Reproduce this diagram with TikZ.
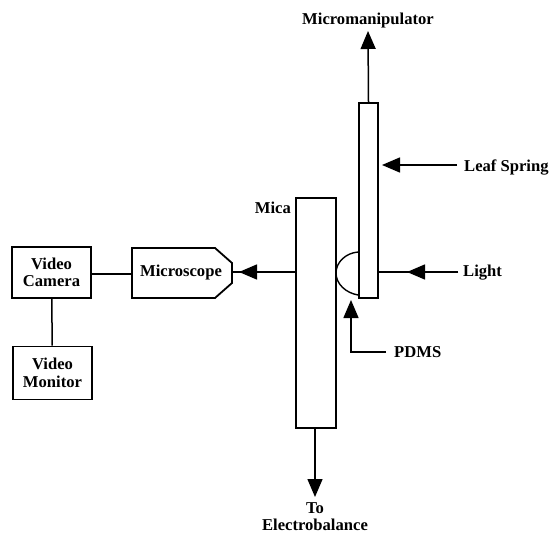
\documentclass[tikz,border=0pt]{standalone}
\usepackage{fontspec}
\setmainfont{Liberation Serif}
\usetikzlibrary{arrows.meta}
\tikzset{
 x=1pt,y=-1pt,
 lbl/.style={inner sep=0pt,font=\fontsize{16.6}{17}\selectfont\bfseries,align=center},
 box/.style={draw,line width=1.8pt,minimum width=79pt,minimum height=51pt,inner sep=0pt,font=\fontsize{16.6}{17.5}\selectfont\bfseries,align=center},
 plate/.style={draw,line width=1.6pt,inner sep=0pt,fill=white},
 conn/.style={line width=1.5pt},
 arr/.style={line width=1.5pt,-{Triangle[length=18pt,width=15pt]}}
}
\begin{document}
\begin{tikzpicture}
\useasboundingbox (0,0) rectangle (553,534);
\node[box] (cam) at (51.5,272.5) {Video\\Camera};
\node[box,minimum height=53pt] (mon) at (52.5,373) {Video\\Monitor};
\node[lbl] (scope) at (181,273) {Microscope};
\draw[line width=1.8pt] (132,248) -- (215,248) -- (232,263) -- (232,283) -- (215,298) -- (132,298) -- cycle;
\coordinate (scopeL) at (132,274);
\coordinate (scopeT) at (232,272);
\draw[conn] (cam.east |- scopeL) -- (scopeL);
\draw[conn] (cam) -- (mon);
\node[plate,minimum width=40pt,minimum height=230pt] (mica) at (316,313) {};
\node[plate,minimum width=19pt,minimum height=195pt] (leaf) at (368.5,200.5) {};
\coordinate (h1) at (358,252);
\coordinate (h2) at (358,295);
\draw[line width=1.4pt] (h1) .. controls (346,253) and (336,262) .. (336,273) .. controls (336,284) and (346,293) .. (h2);
\coordinate (up) at (368,31);
\node[lbl] (mm) at (368,21) {Micromanipulator};
\draw[arr] (leaf.north) -- (up);
\node[lbl,anchor=west] (ls) at (464,167) {Leaf Spring};
\coordinate (lst) at (382,165);
\coordinate (lss) at (457,165);
\draw[arr] (lss) -- (lst);
\node[lbl,anchor=west] (li) at (463,273) {Light};
\coordinate (lit) at (407,272);
\coordinate (lie) at (378,272);
\coordinate (lis) at (458,272);
\draw[conn] (lis) -- (lie);
\draw[arr] (lis) -- (lit);
\node[lbl,anchor=west] (pd) at (394,352) {PDMS};
\coordinate (pdt) at (351,300);
\coordinate (pds) at (386,352);
\draw[arr] (pds) -| (pdt);
\node[lbl,anchor=east] (mc) at (291,208) {Mica};
\coordinate (mt) at (239,272);
\draw[conn] (scopeT) -- (mica.west |- scopeT);
\draw[arr] (mica.west |- scopeT) -- (mt);
\node[lbl] (el) at (315,516.5) {To\\Electrobalance};
\coordinate (dn) at (315,497);
\draw[arr] (dn |- mica.south) -- (dn);
\end{tikzpicture}
\end{document}
